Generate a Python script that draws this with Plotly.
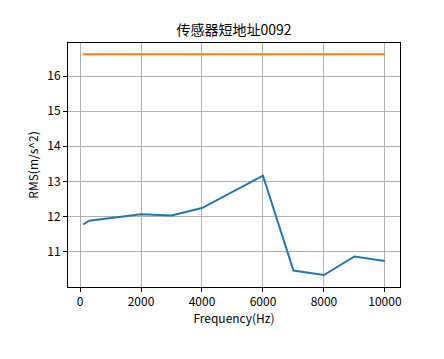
import plotly.graph_objects as go

freq = [100, 300, 2000, 3000, 4000, 6000, 7000, 8000, 9000, 10000]
rms = [11.77, 11.88, 12.06, 12.03, 12.24, 13.16, 10.46, 10.33, 10.86, 10.73]
limit_x = [100, 10000]
limit_y = [16.62, 16.62]
x_ticks = [0, 2000, 4000, 6000, 8000, 10000]
x_labels = ["0", "2000", "4000", "6000", "8000", "10000"]
y_ticks = [11, 12, 13, 14, 15, 16]

font = "Noto Sans CJK SC, SimHei, sans-serif"
fig = go.Figure()
fig.add_trace(go.Scatter(x=freq, y=rms, mode="lines", line=dict(color="#1f77b4", width=2)))
fig.add_trace(go.Scatter(x=limit_x, y=limit_y, mode="lines", line=dict(color="#ff7f0e", width=2)))

axis_common = dict(showline=True, linecolor="black", linewidth=1, mirror=True,
                   ticks="outside", ticklen=4, tickcolor="black", automargin=False,
                   showgrid=True, gridcolor="#b0b0b0", gridwidth=1, zeroline=False,
                   tickfont=dict(family=font, size=12, color="black"))
fig.update_layout(
    width=444, height=359,
    margin=dict(l=60, r=52, t=35, b=80),
    plot_bgcolor="white", paper_bgcolor="white",
    showlegend=False,
    title=dict(text="传感器短地址0092", xref="paper", x=0.5, xanchor="center",
               yref="container", y=0.939, yanchor="middle", automargin=False,
               font=dict(family=font, size=14, color="black")),
    xaxis=dict(range=[-395, 10495], tickvals=x_ticks, ticktext=x_labels,
               title=dict(text="Frequency(Hz)", font=dict(family=font, size=12, color="black"), standoff=4),
               **axis_common),
    yaxis=dict(range=[9.99, 16.94], tickvals=y_ticks,
               title=dict(text="RMS(m/s^2)", font=dict(family=font, size=12, color="black"), standoff=6),
               **axis_common),
)
fig.write_html("out.html")
